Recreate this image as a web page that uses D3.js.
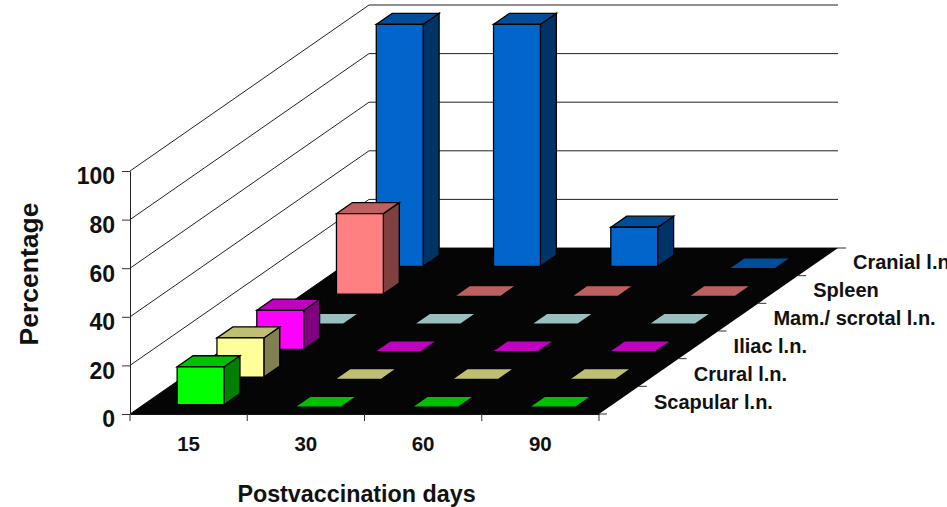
<!DOCTYPE html>
<html>
<head>
<meta charset="utf-8">
<script src="https://cdn.jsdelivr.net/npm/d3@7"></script>
<style>
  html, body { margin: 0; padding: 0; background: #fff; overflow: hidden; }
  svg { display: block; }
  text { font-family: "Liberation Sans", Arial, sans-serif; font-weight: bold; fill: #111; }
</style>
</head>
<body>
<main></main>
<script>
// Data
const days = ["15", "30", "60", "90"];
const organs = ["Scapular l.n.", "Crural l.n.", "Iliac l.n.", "Mam./ scrotal l.n.", "Spleen", "Cranial l.n."];
const scapular = [16, 0, 0, 0];
const crural = [16.5, 0, 0, 0];
const iliac = [16.5, 0, 0, 0];
const scrotal = [0, 0, 0, 0];
const spleen = [33.5, 0, 0, 0];
const cranial = [100, 100, 16.5, 0];
const seriesValues = [scapular, crural, iliac, scrotal, spleen, cranial];
const yTicks = [0, 20, 40, 60, 80, 100];

const frontColors = ["#00ff00", "#ffff99", "#ff00ff", "#ccffff", "#ff8080", "#0066cc"];
const topColors = ["#00c000", "#bfbf73", "#bf00bf", "#99bfbf", "#bf6060", "#004d99"];
const sideColors = ["#008000", "#808050", "#800080", "#669999", "#804040", "#003366"];

const w = 947;
const h = 507;

const svg = d3.select("main").append("svg")
    .attr("width", w)
    .attr("height", h);

// Scales
const left = 130, right = 599, base = 414;
const backDx = 239, backDy = -166;

const x = d3.scaleBand().domain(days).range([left, right]).paddingInner(0.6).paddingOuter(0.3);
const z = d3.scaleBand().domain(organs).range([0, 1]).paddingInner(0.6).paddingOuter(0.3);
const y = d3.scaleLinear().domain([0, 100]).range([base, 171]);

// projects (x pixel, depth 0-1, height pixel) to the screen
const pt = (px, d, py) => [px + d * backDx, py + d * backDy];
const poly = d3.line();

// Walls
const walls = svg.append("g");
walls.selectAll("path.grid")
    .data(yTicks)
    .enter()
    .append("path")
    .attr("class", "grid")
    .attr("fill", "none")
    .attr("stroke", "#222")
    .attr("stroke-width", 1)
    .attr("d", d => poly([pt(left, 0, y(d)), pt(left, 1, y(d)), pt(right, 1, y(d))]));

// Floor
svg.append("path")
    .attr("fill", "#050505")
    .attr("d", poly([pt(left, 0, base), pt(right, 0, base), pt(right, 1, base), pt(left, 1, base)]) + "Z");

// Bars, painted from the back row to the front row
const rows = organs.map((o, i) => ({ organ: o, i: i })).reverse();
const bars = svg.append("g");

rows.forEach(r => {
    const d0 = z(r.organ), d1 = d0 + z.bandwidth();
    days.forEach((day, c) => {
        const v = seriesValues[r.i][c];
        const x0 = x(day), x1 = x0 + x.bandwidth();
        const g = bars.append("g");
        if (v === 0) {
            // zero values only show the top face, with its black edge
            const fb = base + 1.5;
            g.append("path")
                .attr("fill", topColors[r.i])
                .attr("stroke", "#050505")
                .attr("stroke-width", 1.5)
                .attr("d", poly([pt(x0, d0, fb), pt(x1, d0, fb), pt(x1, d1, fb), pt(x0, d1, fb)]) + "Z");
            return;
        }
        const t = y(v), b = base - 1;
        const faces = [
            { c: sideColors[r.i], p: [pt(x1, d0, b), pt(x1, d1, b), pt(x1, d1, t), pt(x1, d0, t)] },
            { c: topColors[r.i], p: [pt(x0, d0, t), pt(x1, d0, t), pt(x1, d1, t), pt(x0, d1, t)] },
            { c: frontColors[r.i], p: [pt(x0, d0, b), pt(x1, d0, b), pt(x1, d0, t), pt(x0, d0, t)] }
        ];
        g.selectAll("path")
            .data(faces)
            .enter()
            .append("path")
            .attr("fill", f => f.c)
            .attr("stroke", "#000")
            .attr("stroke-width", 1.3)
            .attr("stroke-linejoin", "miter")
            .attr("d", f => poly(f.p) + "Z");
    });
});

// Y axis, the labels sit a bit below their ticks in the picture
const yAxis = svg.append("g")
    .attr("transform", `translate(${left},0)`)
    .call(d3.axisLeft(y).tickValues(yTicks).tickSize(8).tickPadding(7).tickSizeOuter(0));
yAxis.select(".domain").attr("stroke", "#222");
yAxis.selectAll("line").attr("stroke", "#333");
yAxis.selectAll("text")
    .attr("y", 5.5)
    .attr("font-size", 23)
    .attr("font-family", "Liberation Sans")
    .attr("fill", "#111");

// X axis: the labels come from the band scale, tick marks sit between the bands
const xAxis = svg.append("g")
    .attr("transform", `translate(0,${base})`)
    .call(d3.axisBottom(x).tickSize(0).tickPadding(22));
xAxis.select(".domain").attr("stroke", "#111");
xAxis.selectAll("text")
    .attr("font-size", 20.5)
    .attr("font-family", "Liberation Sans")
    .attr("fill", "#111");

d3.range(days.length + 1).forEach(i => {
    const tx = left + i * x.step();
    svg.append("line")
        .attr("x1", tx).attr("x2", tx)
        .attr("y1", base).attr("y2", base + 7)
        .attr("stroke", "#333");
});

// Depth axis on the right edge of the floor
d3.range(organs.length + 1).forEach(i => {
    const p = pt(right, i / organs.length, base);
    svg.append("line")
        .attr("x1", p[0]).attr("x2", p[0] + 8)
        .attr("y1", p[1]).attr("y2", p[1])
        .attr("stroke", "#333");
});

svg.append("g").selectAll("text")
    .data(organs)
    .enter()
    .append("text")
    .attr("font-size", 20)
    .attr("x", (d, i) => 654 + i * 39.8)
    .attr("y", (d, i) => 409 - i * 28)
    .text(d => d);

// Axis titles
svg.append("text")
    .attr("font-size", 23.3)
    .attr("text-anchor", "middle")
    .attr("x", 356.5)
    .attr("y", 502)
    .text("Postvaccination days");

svg.append("text")
    .attr("font-size", 26.5)
    .attr("text-anchor", "middle")
    .attr("transform", "translate(38,274) rotate(-90)")
    .text("Percentage");
</script>
</body>
</html>
